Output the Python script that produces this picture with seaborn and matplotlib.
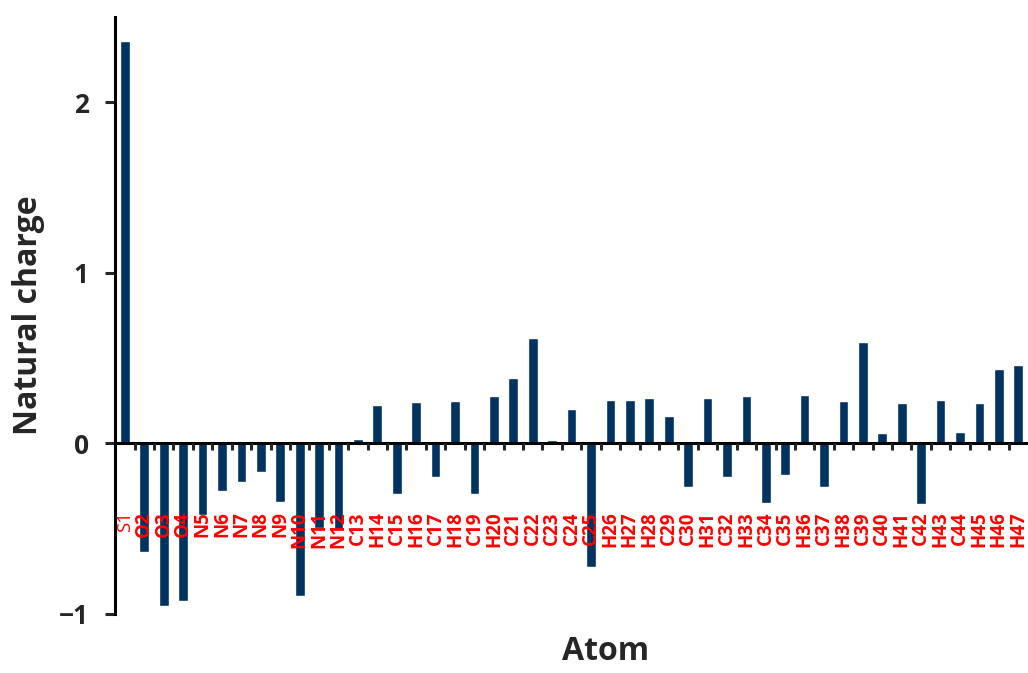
import numpy as np
import pandas as pd
import matplotlib
matplotlib.use("Agg")
import matplotlib.pyplot as plt
import seaborn as sns
from matplotlib.ticker import FixedLocator

sns.set_style("white")
plt.rcParams["font.family"] = ["Open Sans", "DejaVu Sans"]

# atom labels and natural charges
atoms = ["S1", "O2", "O3", "O4", "N5", "N6", "N7", "N8", "N9", "N10",
         "N11", "N12", "C13", "H14", "C15", "H16", "C17", "H18", "C19", "H20",
         "C21", "C22", "C23", "C24", "C25", "H26", "H27", "H28", "C29", "C30",
         "H31", "C32", "H33", "C34", "C35", "H36", "C37", "H38", "C39", "C40",
         "H41", "C42", "H43", "C44", "H45", "H46", "H47"]
charges = [2.36, -0.64, -0.954, -0.923, -0.42, -0.28, -0.23, -0.168, -0.346, -0.895,
           -0.50, -0.51, 0.025, 0.227, -0.295, 0.24, -0.20, 0.246, -0.295, 0.274,
           0.381, 0.618, 0.018, 0.203, -0.723, 0.252, 0.252, 0.266, 0.157, -0.256,
           0.266, -0.20, 0.274, -0.348, -0.188, 0.28, -0.256, 0.246, 0.592, 0.06,
           0.234, -0.354, 0.252, 0.068, 0.234, 0.438, 0.457]
yticks = [-1, 0, 1, 2]
ytick_labels = ["\u22121", "0", "1", "2"]

df = pd.DataFrame({"Atom": atoms, "Charge": charges})

fig = plt.figure(figsize=(10.28, 6.73), dpi=100)
ax = fig.add_axes([0.112, 0.088, 0.888, 0.887])

sns.barplot(data=df, x="Atom", y="Charge", color="#00335F", saturation=1,
            width=0.5, ax=ax)

ax.set_xlim(-0.5, len(atoms) - 0.5)
ax.set_ylim(-1, 2.5)

# spines
for s in ["top", "right"]:
    ax.spines[s].set_visible(False)
ax.spines["bottom"].set_position(("data", 0))
for s in ["bottom", "left"]:
    ax.spines[s].set_linewidth(2.2)
    ax.spines[s].set_color("black")
ax.spines["bottom"].set_zorder(5)
ax.xaxis.set_zorder(6)

# y ticks
ax.set_yticks(yticks)
ax.set_yticklabels(ytick_labels)
ax.tick_params(axis="y", direction="out", length=7, width=2.2, pad=12,
               labelsize=19, left=True)
for lab in ax.get_yticklabels():
    lab.set_fontweight("bold")

# x ticks: labels at centers, marks at category boundaries
ax.tick_params(axis="x", which="major", length=0, pad=49, labelsize=13.5,
               labelcolor="red", labelrotation=90)
ax.xaxis.set_minor_locator(FixedLocator(np.arange(0.5, len(atoms) - 0.5, 1)))
ax.tick_params(axis="x", which="minor", direction="out", length=5, width=2.2,
               bottom=True)
for i, lab in enumerate(ax.get_xticklabels()):
    lab.set_fontweight("normal" if i == 0 else "bold")
    lab.set_va("top")

ax.set_xlabel("Atom", fontsize=23, fontweight="bold")
ax.xaxis.set_label_coords(0.537, -0.035)
ax.set_ylabel("Natural charge", fontsize=23, fontweight="bold", labelpad=10)

fig.savefig("out.png", dpi=100)
